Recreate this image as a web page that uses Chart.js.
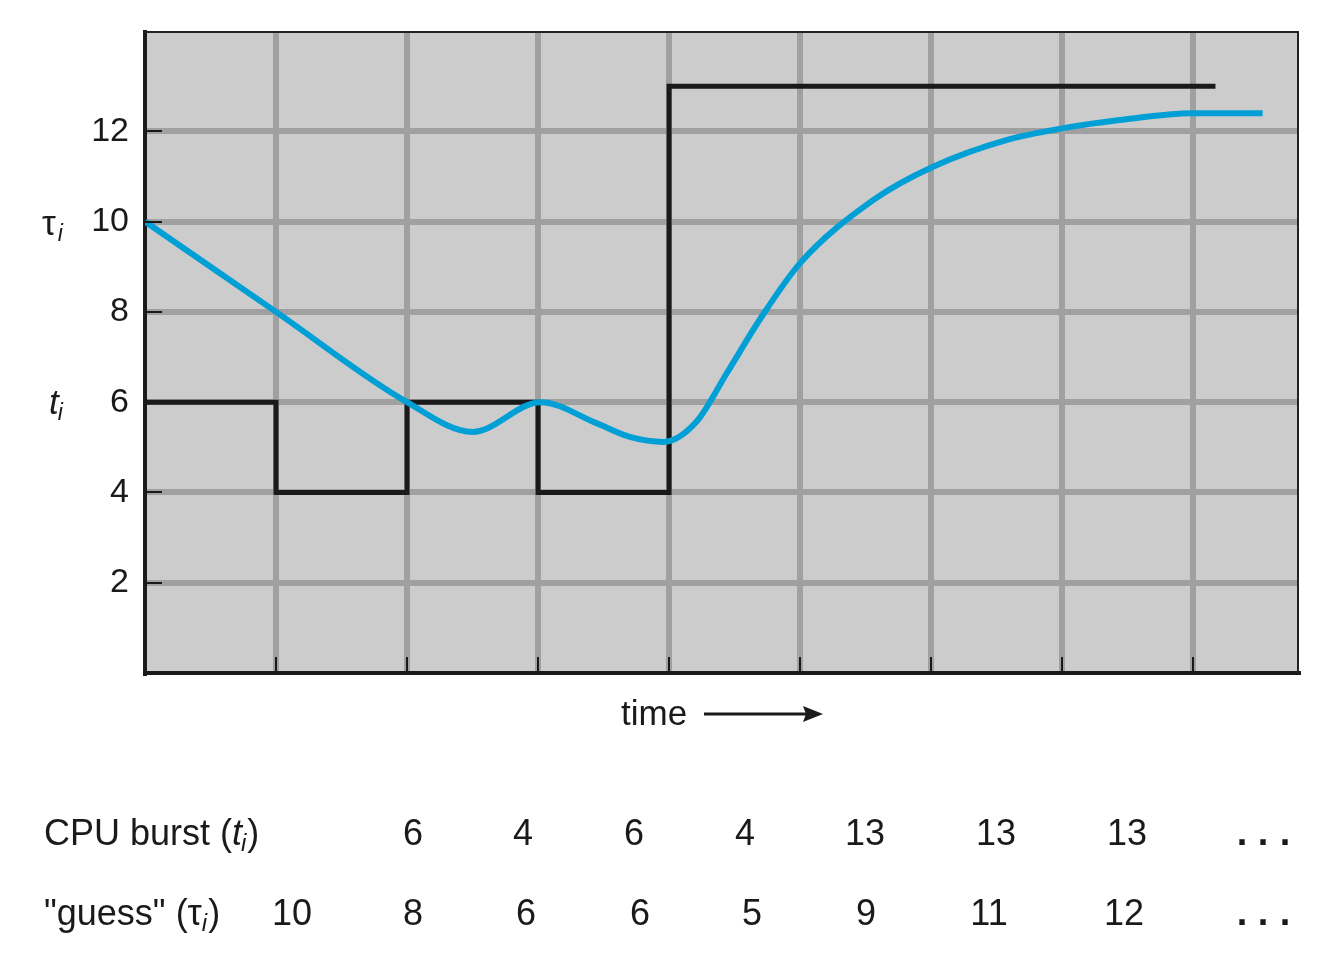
<!DOCTYPE html>
<html>
<head>
<meta charset="utf-8">
<script src="https://cdn.jsdelivr.net/npm/chart.js@4/dist/chart.umd.min.js"></script>
<style>
  html, body { margin: 0; padding: 0; background: #fff; }
  #wrap { width: 1338px; height: 974px; }
</style>
</head>
<body>
<div id="wrap"><canvas id="chart" width="1338" height="974"></canvas></div>
<script>
// table rows
const burstValues = [6, 4, 6, 4, 13, 13, 13];
const guessValues = [10, 8, 6, 6, 5, 9, 11, 12];
// where the burst step line stops
const burstEndX = 8.17;

// blue "guess" curve
const curveX = [0, 1, 2, 2.5, 3.02, 3.45, 3.7, 3.96, 4.21, 4.44, 4.69, 5.0, 5.56, 6.01, 6.58, 7.01, 7.44, 8.0, 8.53];
const curveY = [10, 8, 6, 5.34, 6.0, 5.53, 5.23, 5.12, 5.57, 6.64, 7.82, 9.08, 10.48, 11.21, 11.81, 12.07, 12.25, 12.4, 12.4];

const yTicks = [2, 4, 6, 8, 10, 12];
const xTicks = [1, 2, 3, 4, 5, 6, 7, 8];

// column centres of the table under the chart (page pixels)
const burstColX = [413, 523, 634, 745, 865, 996, 1127];
const guessColX = [292, 413, 526, 640, 752, 866, 989, 1124];
const dotsX = [1242, 1263, 1285];

const FONT = '"Liberation Sans", Arial, Helvetica, sans-serif';
const INK = '#1a1a1a';

const burstPoints = burstValues.map((v, i) => ({ x: i, y: v }));
burstPoints.push({ x: burstEndX, y: burstValues[burstValues.length - 1] });
const curvePoints = curveX.map((x, i) => ({ x: x, y: curveY[i] }));

function drawRuns(ctx, x, y, parts) {
    for (const p of parts) {
        ctx.font = p.font;
        ctx.fillText(p.t, x, y + (p.dy || 0));
        x += ctx.measureText(p.t).width + (p.gap || 0);
    }
}

const frame = {
    id: 'frame',
    beforeDraw(chart) {
        const { ctx, chartArea: a } = chart;
        ctx.save();
        ctx.fillStyle = '#cccccc';
        ctx.fillRect(a.left, a.top, a.right - a.left, a.bottom - a.top);
        ctx.restore();
    },
    afterDraw(chart) {
        const { ctx, chartArea: a, scales } = chart;
        ctx.save();

        // thin top and right edges
        ctx.strokeStyle = '#222';
        ctx.lineWidth = 2;
        ctx.beginPath();
        ctx.moveTo(a.left, a.top);
        ctx.lineTo(a.right, a.top);
        ctx.lineTo(a.right, a.bottom);
        ctx.stroke();

        // small inner tick marks
        ctx.strokeStyle = INK;
        ctx.lineWidth = 2;
        ctx.beginPath();
        yTicks.forEach((v) => {
            const py = Math.round(scales.y.getPixelForValue(v));
            ctx.moveTo(a.left, py);
            ctx.lineTo(a.left + 17, py);
        });
        xTicks.forEach((v) => {
            const px = Math.round(scales.x.getPixelForValue(v));
            ctx.moveTo(px, a.bottom);
            ctx.lineTo(px, a.bottom - 16);
        });
        ctx.stroke();

        ctx.fillStyle = INK;
        ctx.textBaseline = 'alphabetic';
        ctx.textAlign = 'left';

        // axis symbols
        const big = '35px ' + FONT;
        const sub = 'italic 23px ' + FONT;
        drawRuns(ctx, 42, scales.y.getPixelForValue(10) + 13, [
            { t: '\u03C4', font: big, gap: 2 },
            { t: 'i', font: sub, dy: 6 }
        ]);
        drawRuns(ctx, 49, scales.y.getPixelForValue(6) + 12, [
            { t: 't', font: 'italic ' + big, gap: -1 },
            { t: 'i', font: sub, dy: 6 }
        ]);

        // time arrow
        ctx.font = '35px ' + FONT;
        ctx.fillText('time', 621, 725);
        ctx.lineWidth = 3;
        ctx.beginPath();
        ctx.moveTo(704, 714);
        ctx.lineTo(810, 714);
        ctx.stroke();
        ctx.beginPath();
        ctx.moveTo(823, 714);
        ctx.lineTo(803, 706);
        ctx.lineTo(806, 714);
        ctx.lineTo(803, 722);
        ctx.closePath();
        ctx.fill();

        // table labels
        const tf = '36px ' + FONT;
        drawRuns(ctx, 44, 845, [
            { t: 'CPU burst (', font: tf },
            { t: 't', font: 'italic ' + tf, gap: -1 },
            { t: 'i', font: 'italic 24px ' + FONT, dy: 6, gap: 1 },
            { t: ')', font: tf }
        ]);
        drawRuns(ctx, 44, 925, [
            { t: '"guess" (', font: tf },
            { t: '\u03C4', font: tf },
            { t: 'i', font: 'italic 24px ' + FONT, dy: 6, gap: 1 },
            { t: ')', font: tf }
        ]);

        // table values
        ctx.textAlign = 'center';
        ctx.font = tf;
        burstValues.forEach((v, i) => ctx.fillText(String(v), burstColX[i], 845));
        guessValues.forEach((v, i) => ctx.fillText(String(v), guessColX[i], 925));
        ctx.font = 'bold 38px ' + FONT;
        dotsX.forEach((x) => {
            ctx.fillText('.', x, 845);
            ctx.fillText('.', x, 925);
        });

        ctx.restore();
    }
};

new Chart(document.getElementById('chart'), {
    type: 'line',
    data: {
        datasets: [
            {
                label: 'guess',
                data: curvePoints,
                borderColor: '#00a0d6',
                borderWidth: 6,
                cubicInterpolationMode: 'monotone',
                pointRadius: 0,
                fill: false,
                order: 0,
            },
            {
                label: 'CPU burst',
                data: burstPoints,
                borderColor: INK,
                borderWidth: 5,
                stepped: 'before',
                pointRadius: 0,
                fill: false,
                order: 1,
            },
        ],
    },
    options: {
        responsive: false,
        animation: false,
        layout: { padding: { top: 32, right: 40, bottom: 0, left: 0 } },
        plugins: {
            legend: { display: false },
            tooltip: { enabled: false },
        },
        scales: {
            x: {
                type: 'linear',
                min: 0,
                max: 8.8,
                afterBuildTicks: (scale) => { scale.ticks = xTicks.map((v) => ({ value: v })); },
                afterFit: (scale) => { scale.height = 301; },
                ticks: { display: false },
                grid: { color: '#a0a0a0', lineWidth: 6, drawTicks: false },
                border: { color: INK, width: 4 },
            },
            y: {
                min: 0,
                max: 14.2,
                afterBuildTicks: (scale) => { scale.ticks = yTicks.map((v) => ({ value: v })); },
                afterFit: (scale) => {
                    scale.width = 145;
                    scale.paddingTop = 0;
                    scale.paddingBottom = 0;
                },
                ticks: {
                    padding: 16,
                    color: INK,
                    font: { family: FONT, size: 34 },
                },
                grid: { color: '#a0a0a0', lineWidth: 6, drawTicks: false },
                border: { color: INK, width: 4 },
            },
        },
    },
    plugins: [frame],
});
</script>
</body>
</html>
